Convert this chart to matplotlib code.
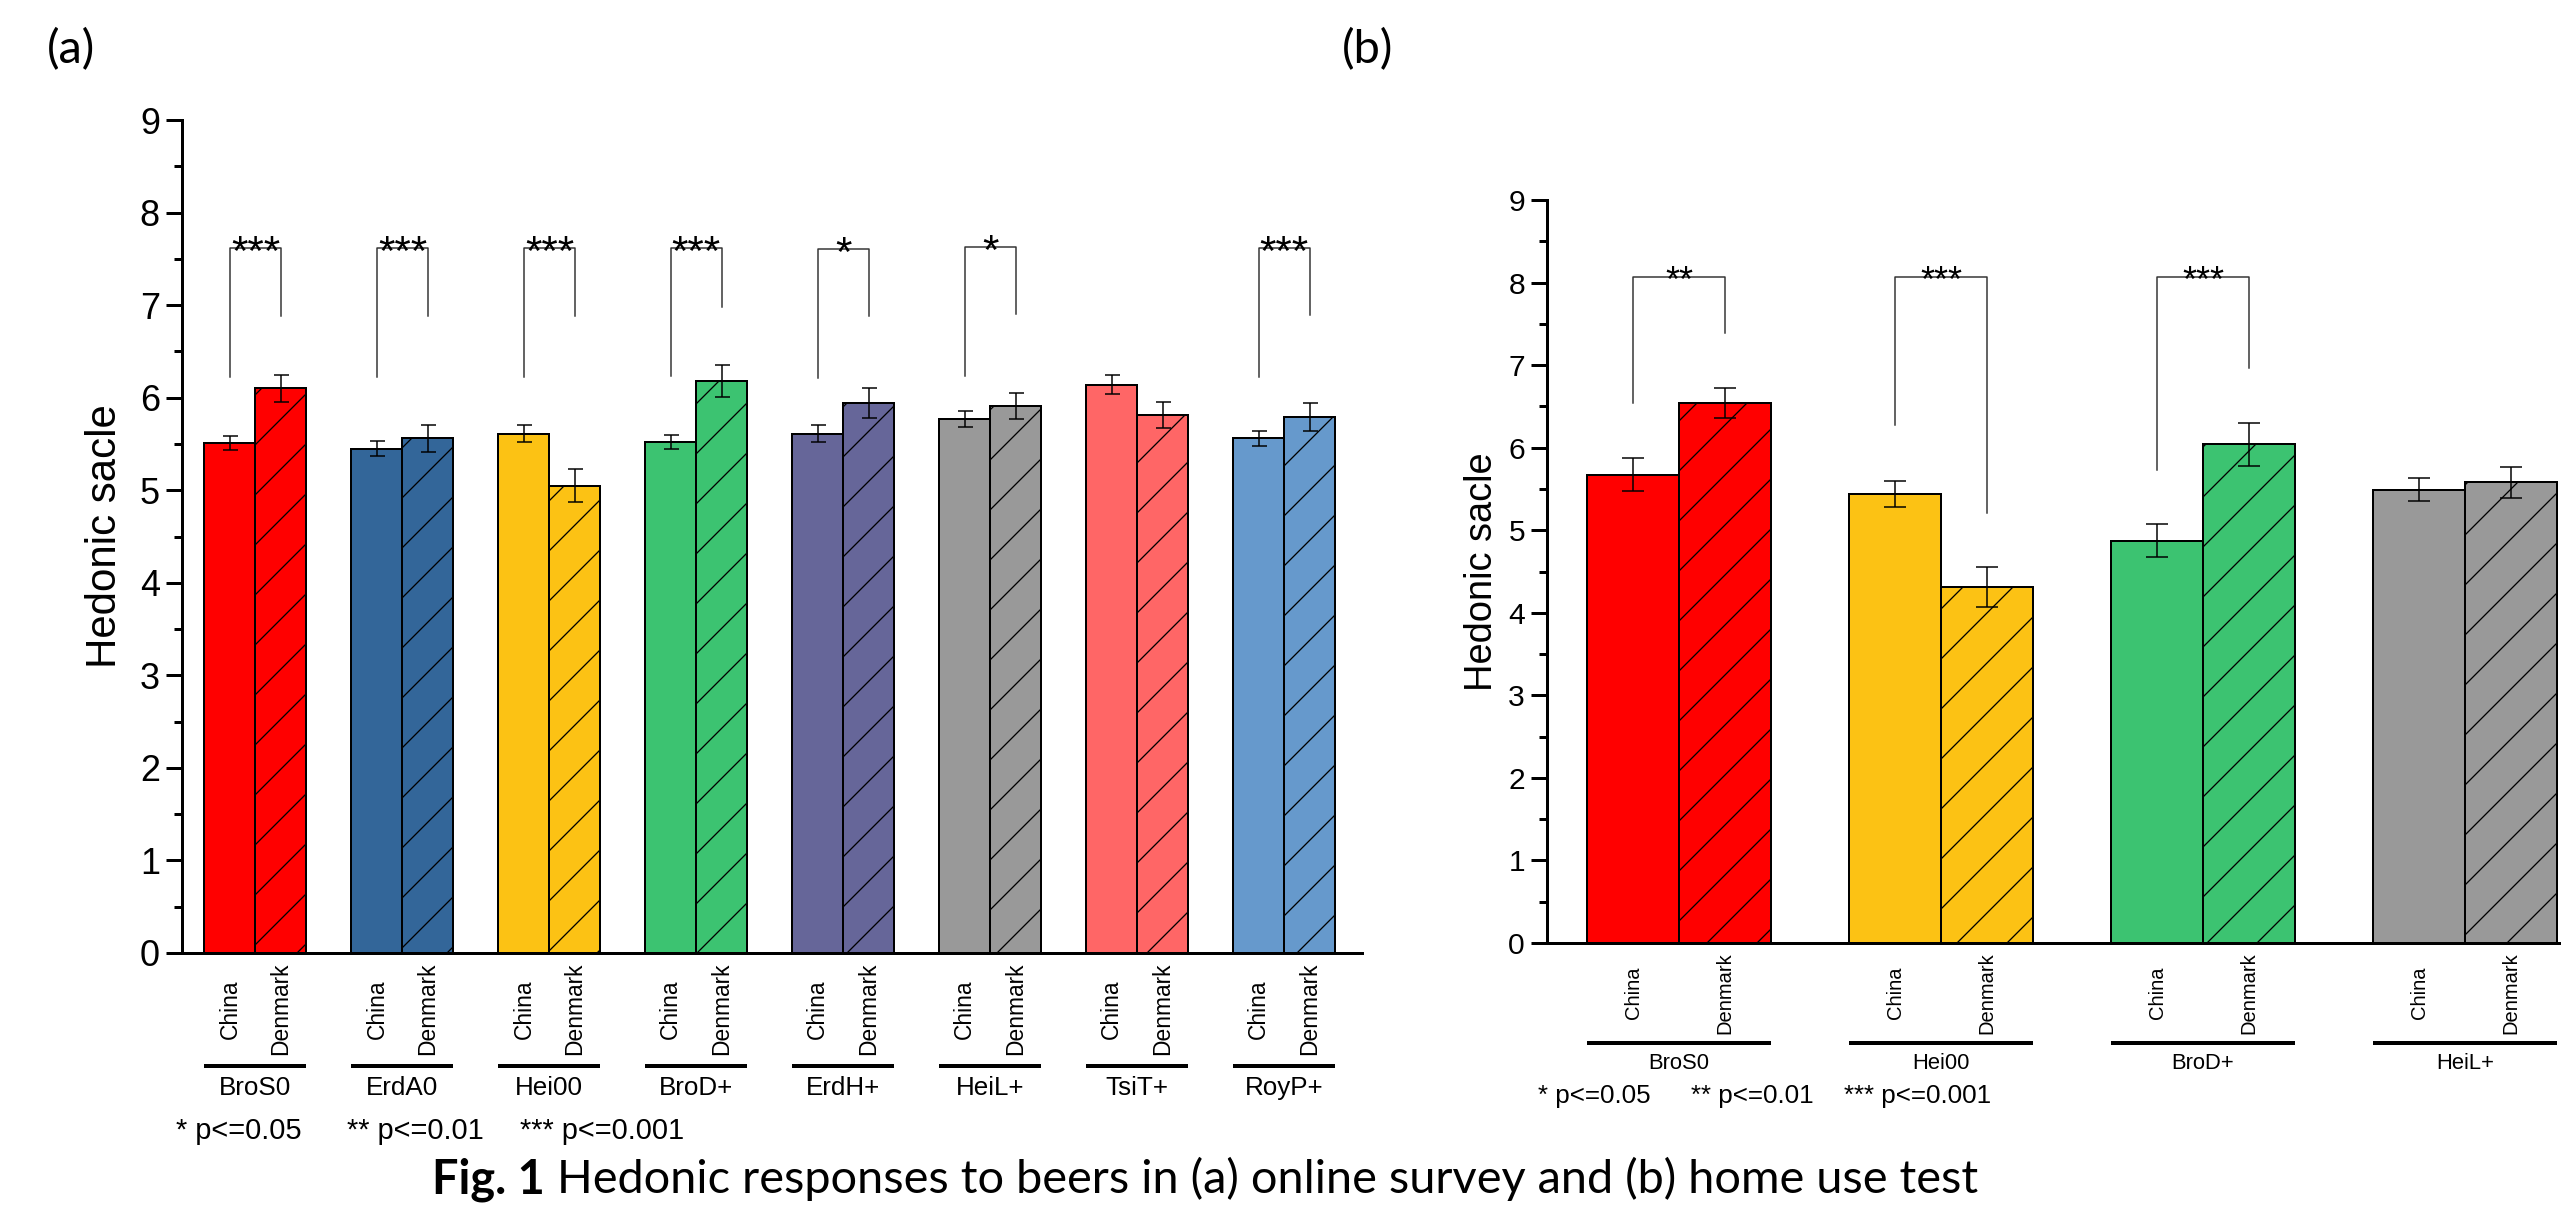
import matplotlib
matplotlib.use("Agg")
import matplotlib.pyplot as plt
from matplotlib.transforms import offset_copy
from matplotlib.ticker import MultipleLocator
import numpy as np

W, H, DPI = 2562, 1215, 150


def px(v):
    # pixel size -> points at the chosen dpi
    return v * 72.0 / DPI


# (a) online survey
beers_a = ['BroS0', 'ErdA0', 'Hei00', 'BroD+', 'ErdH+', 'HeiL+', 'TsiT+', 'RoyP+']
china_a = [5.51, 5.45, 5.61, 5.52, 5.61, 5.77, 6.14, 5.56]
china_err_a = [0.08, 0.08, 0.09, 0.08, 0.09, 0.09, 0.10, 0.08]
denmark_a = [6.10, 5.56, 5.05, 6.18, 5.94, 5.91, 5.81, 5.79]
denmark_err_a = [0.15, 0.15, 0.18, 0.17, 0.16, 0.14, 0.14, 0.15]
sig_a = ['***', '***', '***', '***', '*', '*', '', '***']
br_top_a = [7.62, 7.62, 7.62, 7.62, 7.61, 7.63, None, 7.62]
br_left_a = [6.22, 6.22, 6.22, 6.23, 6.21, 6.23, None, 6.22]
br_right_a = [6.88, 6.88, 6.88, 6.98, 6.88, 6.90, None, 6.89]
colors_a = ['#FF0000', '#336699', '#FCC214', '#3CC371', '#666699', '#999999', '#FF6666', '#6699CC']

# (b) home use test
beers_b = ['BroS0', 'Hei00', 'BroD+', 'HeiL+']
china_b = [5.67, 5.44, 4.87, 5.49]
china_err_b = [0.20, 0.16, 0.20, 0.14]
denmark_b = [6.54, 4.31, 6.04, 5.58]
denmark_err_b = [0.18, 0.24, 0.26, 0.19]
sig_b = ['**', '***', '***', '']
br_top_b = [8.07, 8.07, 8.07, None]
br_left_b = [6.54, 6.28, 5.73, None]
br_right_b = [7.39, 5.21, 6.97, None]
colors_b = ['#FF0000', '#FCC214', '#3CC371', '#999999']

p_labels = ['* p<=0.05', '** p<=0.01', '*** p<=0.001']
caption_bold = 'Fig. 1'
caption_rest = ' Hedonic responses to beers in (a) online survey and (b) home use test'

plt.rcParams['font.family'] = ['Liberation Sans', 'DejaVu Sans']
plt.rcParams['hatch.linewidth'] = px(1.3)

fig = plt.figure(figsize=(W / DPI, H / DPI), dpi=DPI)


def draw_panel(ax, beers, china, china_err, den, den_err, colors, sig,
               br_top, br_left, br_right, bw, xlim, st):
    x = np.arange(len(beers))
    ax.bar(x - bw / 2, china, bw, color=colors, edgecolor='black', linewidth=px(2), zorder=2)
    ax.bar(x + bw / 2, den, bw, color=colors, edgecolor='black', linewidth=px(2),
           hatch='/', zorder=2)
    for xs, v, e in ((x - bw / 2, china, china_err), (x + bw / 2, den, den_err)):
        ax.errorbar(xs, v, yerr=e, fmt='none', ecolor='black', elinewidth=px(1.5),
                    capsize=px(st['cap']), capthick=px(1.5), zorder=3)

    for i, s in enumerate(sig):
        if not s:
            continue
        xl, xr = x[i] - bw / 2, x[i] + bw / 2
        ax.plot([xl, xl, xr, xr], [br_left[i], br_top[i], br_top[i], br_right[i]],
                color='#333333', lw=px(1.5), zorder=1)
        ax.annotate(s, xy=(x[i], br_top[i]), xytext=(0, -px(st['star'] * 0.42)),
                    textcoords='offset points', ha='center', va='baseline',
                    fontsize=px(st['star']))

    ax.set_xlim(*xlim)
    ax.set_ylim(0, 9)
    ax.yaxis.set_major_locator(MultipleLocator(1))
    ax.yaxis.set_minor_locator(MultipleLocator(0.5))
    ax.set_xticks([])
    for sp in ('top', 'right'):
        ax.spines[sp].set_visible(False)
    for sp in ('left', 'bottom'):
        ax.spines[sp].set_linewidth(px(3))
    ax.tick_params(axis='y', which='major', length=px(16), width=px(3), direction='out',
                   labelsize=px(st['tick']), pad=px(6))
    ax.tick_params(axis='y', which='minor', length=px(8), width=px(3), direction='out')
    ax.set_ylabel('Hedonic sacle', fontsize=px(st['ylab']))
    ax.yaxis.set_label_coords(st['ylab_x'], 0.5)

    base = ax.get_xaxis_transform()
    for i, b in enumerate(beers):
        for xx, lab in ((x[i] - bw / 2, 'China'), (x[i] + bw / 2, 'Denmark')):
            ax.text(xx, 0, lab, transform=offset_copy(base, fig=fig, y=-st['cty'], units='dots'),
                    rotation=90, ha='center', va='center', fontsize=px(st['cfs']))
        ax.plot([x[i] - bw, x[i] + bw], [0, 0],
                transform=offset_copy(base, fig=fig, y=-st['line'], units='dots'),
                color='black', lw=px(4), clip_on=False, solid_capstyle='butt')
        ax.text(x[i], 0, b, transform=offset_copy(base, fig=fig, y=-st['name'], units='dots'),
                ha='center', va='baseline', fontsize=px(st['nfs']))


ax_a = fig.add_axes([182 / W, 1 - 953 / H, 1180 / W, 833 / H])
draw_panel(ax_a, beers_a, china_a, china_err_a, denmark_a, denmark_err_a, colors_a, sig_a,
           br_top_a, br_left_a, br_right_a, 0.347, (-0.5, 7.53),
           dict(cap=7.5, star=42, tick=36, ylab=42, ylab_x=-0.048,
                cty=56, line=113, name=142, cfs=22.7, nfs=26))

ax_b = fig.add_axes([1547 / W, 1 - 943 / H, 1049 / W, 743 / H])
draw_panel(ax_b, beers_b, china_b, china_err_b, denmark_b, denmark_err_b, colors_b, sig_b,
           br_top_b, br_left_b, br_right_b, 0.351, (-0.504, 3.5),
           dict(cap=11, star=36, tick=30, ylab=38, ylab_x=-0.045,
                cty=50, line=100, name=126, cfs=20.2, nfs=22))

# significance keys
for xp, lab in zip([176, 347, 520], p_labels):
    fig.text(xp / W, 1 - 1139 / H, lab, fontsize=px(29), va='baseline')
for xp, lab in zip([1538, 1691, 1844], p_labels):
    fig.text(xp / W, 1 - 1103 / H, lab, fontsize=px(26), va='baseline')

cap_font = ['Lato', 'DejaVu Sans']
fig.text(47 / W, 1 - 50 / H, '(a)', fontsize=px(47), family=cap_font, va='center')
fig.text(1342 / W, 1 - 50 / H, '(b)', fontsize=px(47), family=cap_font, va='center')

# caption, sized to the reference width
t1 = fig.text(432 / W, 1 - 1193 / H, caption_bold, fontsize=px(49), fontweight='bold',
              family=cap_font, va='baseline')
t2 = fig.text(0, 1 - 1193 / H, caption_rest, fontsize=px(49), family=cap_font, va='baseline')
r = fig.canvas.get_renderer()
w = t1.get_window_extent(r).width + t2.get_window_extent(r).width
k = 1546.0 / w
t1.set_fontsize(px(49) * k)
t2.set_fontsize(px(49) * k)
w1 = t1.get_window_extent(r).width
t2.set_x((432 + w1) / W)

fig.savefig('out.png', dpi=DPI)
